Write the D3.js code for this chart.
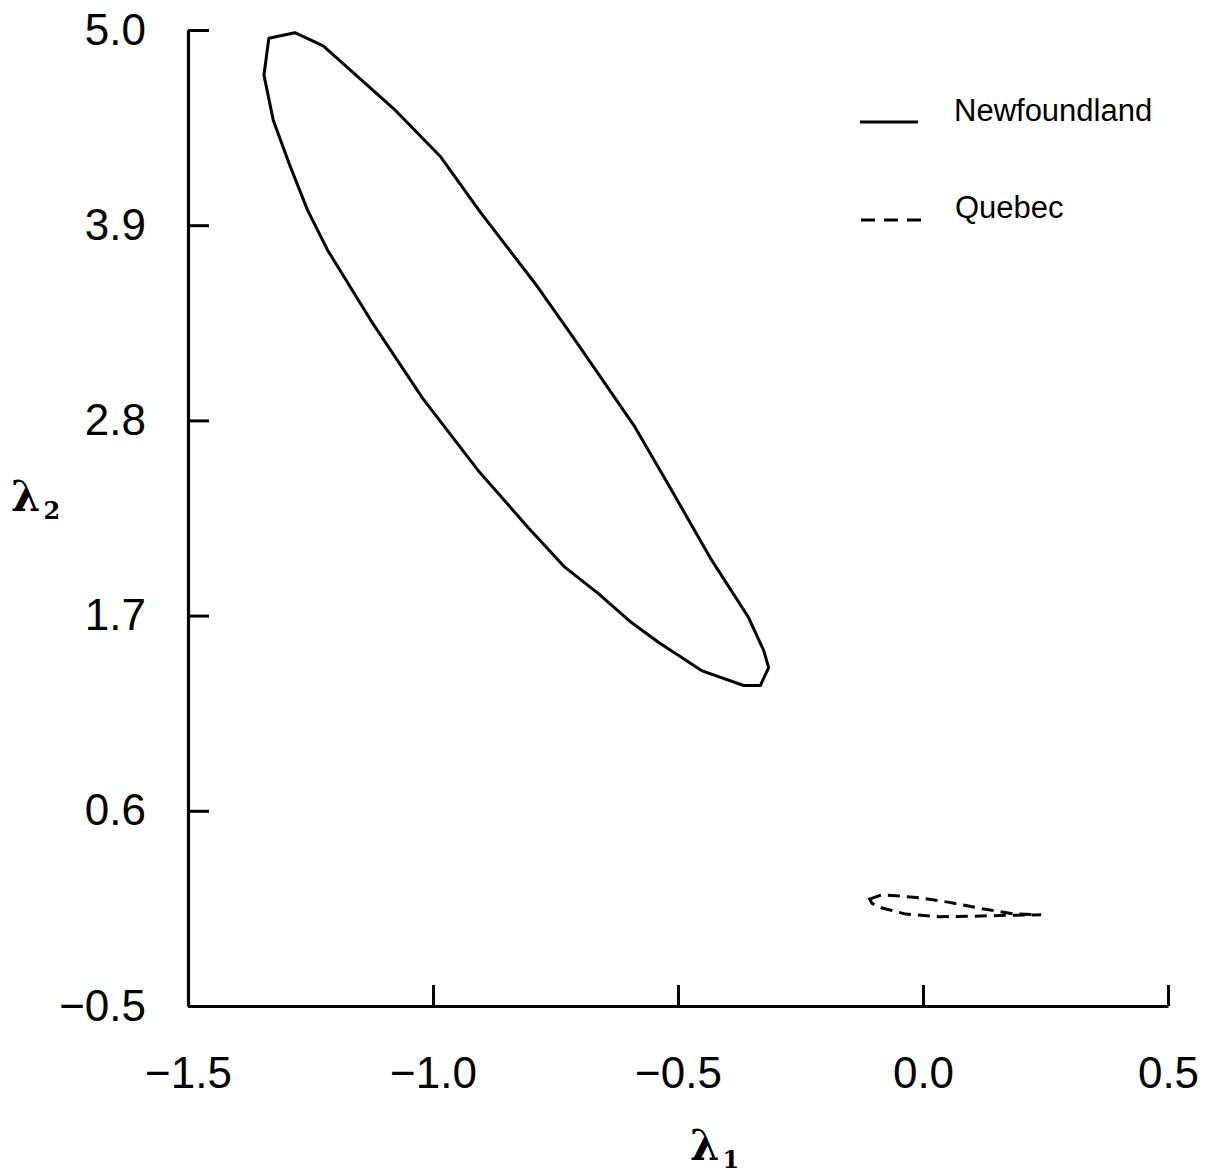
<!DOCTYPE html>
<html>
<head>
    <meta charset="utf-8">
    <script src="https://cdn.jsdelivr.net/npm/d3@7"></script>
</head>
<body style="margin:0;background:#fff">
<style>
    .tick text{font-family:"Liberation Sans",Arial,sans-serif;font-size:44px;fill:#000;}
    .tick line{stroke:#000;stroke-width:3;}
    .domain{stroke:#000;stroke-width:3.2;}
    .legtext{font-family:"Liberation Sans",Arial,sans-serif;font-size:31px;fill:#000;}
    .axlab{font-family:"DejaVu Serif",serif;font-weight:bold;fill:#000;}
</style>
<script>
    var w=1212,
        h=1174;

    // lambda1 / lambda2 confidence region, Newfoundland
    var nfX=[-1.282,-1.224,-1.076,-0.984,-0.902,-0.792,-0.710,-0.588,-0.513,-0.431,-0.356,-0.325,-0.315,-0.332,-0.366,
             -0.452,-0.540,-0.595,-0.663,-0.731,-0.806,-0.908,-1.021,-1.127,-1.215,-1.256,-1.294,-1.326,-1.345,-1.335];
    var nfY=[4.985,4.910,4.545,4.284,3.968,3.573,3.252,2.763,2.406,2.011,1.689,1.503,1.407,1.306,1.306,
             1.390,1.550,1.661,1.825,1.973,2.197,2.518,2.924,3.364,3.759,3.985,4.250,4.492,4.746,4.953];

    // Quebec
    var qcX=[-0.109,-0.083,-0.014,0.054,0.121,0.183,0.241,0.170,0.101,0.033,-0.035,-0.083,-0.104];
    var qcY=[0.103,0.127,0.112,0.084,0.048,0.020,0.014,0.011,0.006,0.003,0.018,0.052,0.078];

    var xTicks=[-1.5,-1.0,-0.5,0.0,0.5];
    var yTicks=[-0.5,0.6,1.7,2.8,3.9,5.0];
    var legendNames=['Newfoundland','Quebec'];

    var svg=d3.select('body').append('svg').attr('width',w).attr('height',h);

    var x=d3.scaleLinear().domain([-1.5,0.5]).range([188,1168]);
    var y=d3.scaleLinear().domain([-0.5,5.0]).range([1006,30]);

    //axes, ticks pointing inside
    svg.append('g').attr('transform','translate(0,1006)')
        .call(d3.axisBottom(x).tickValues(xTicks).tickFormat(d3.format('.1f')).tickSize(-21).tickSizeOuter(0).tickPadding(51));
    svg.append('g').attr('transform','translate(188,0)')
        .call(d3.axisLeft(y).tickValues(yTicks).tickFormat(d3.format('.1f')).tickSize(-21).tickSizeOuter(0).tickPadding(42));

    function pts(xs,ys){
        var arr=[];
        for(var i=0;i<xs.length;i++){
            arr.push([xs[i],ys[i]]);
        }
        return arr;
    }

    var line=d3.line().x(function(d){return x(d[0])}).y(function(d){return y(d[1])}).curve(d3.curveLinearClosed);

    svg.append('path').attr('d',line(pts(nfX,nfY)))
        .attr('fill','none').attr('stroke','#000').attr('stroke-width',3).attr('stroke-linejoin','round');
    svg.append('path').attr('d',line(pts(qcX,qcY)))
        .attr('fill','none').attr('stroke','#000').attr('stroke-width',3).attr('stroke-dasharray','12,7');

    //legend
    svg.append('line').attr('x1',860).attr('x2',918).attr('y1',122).attr('y2',122)
        .attr('stroke','#000').attr('stroke-width',3);
    svg.append('line').attr('x1',861).attr('x2',921).attr('y1',220).attr('y2',220)
        .attr('stroke','#000').attr('stroke-width',3).attr('stroke-dasharray','14,9');
    svg.append('text').attr('class','legtext').attr('x',954).attr('y',121).text(legendNames[0]);
    svg.append('text').attr('class','legtext').attr('x',955).attr('y',218).text(legendNames[1]);

    //axis titles
    var t2=svg.append('text').attr('class','axlab').attr('x',11).attr('y',511);
    t2.append('tspan').attr('font-size','42px').text('λ');
    t2.append('tspan').attr('font-size','24px').attr('dx',3).attr('dy',8).text('2');

    var t1=svg.append('text').attr('class','axlab').attr('x',690).attr('y',1160);
    t1.append('tspan').attr('font-size','42px').text('λ');
    t1.append('tspan').attr('font-size','24px').attr('dx',3).attr('dy',8).text('1');
</script>
</body>
</html>
